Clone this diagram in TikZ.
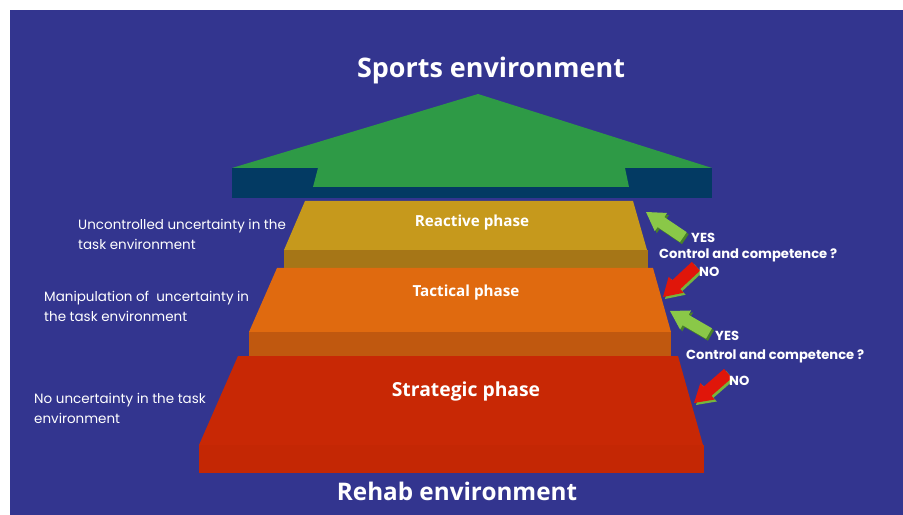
\documentclass[tikz,border=0pt]{standalone}
\usepackage{fontspec}
\setmainfont{Poppins}
\newfontfamily\headfont{Open Sans}
\usetikzlibrary{positioning}

\definecolor{slide}{RGB}{51,53,143}
\definecolor{arrowtop}{RGB}{46,154,70}
\definecolor{navy}{RGB}{3,58,99}
\definecolor{goldtop}{RGB}{198,153,28}
\definecolor{goldfront}{RGB}{166,118,23}
\definecolor{orangetop}{RGB}{224,106,15}
\definecolor{orangefront}{RGB}{192,88,15}
\definecolor{redtop}{RGB}{200,40,5}
\definecolor{redfront}{RGB}{196,39,4}
\definecolor{yesgreen}{RGB}{138,200,72}
\definecolor{yesshade}{RGB}{72,130,40}
\definecolor{nored}{RGB}{224,22,10}
\definecolor{noshade}{RGB}{118,182,60}

\begin{document}
\begin{tikzpicture}[x=0.03cm,y=-0.03cm,
  title/.style={text=white, font=\headfont\bfseries\fontsize{23}{27}\selectfont},
  phaselabel/.style={text=white, font=\headfont\bfseries\fontsize{13}{15}\selectfont},
  sidelabel/.style={text=white, align=left, anchor=west, inner sep=0pt,
    font=\fontsize{11.5}{17}\selectfont},
  answer/.style={text=white, anchor=base west, inner sep=0pt,
    font=\bfseries\fontsize{11.2}{13}\selectfont}]
% slide
\useasboundingbox (0,0) rectangle (903,515);
\fill[white] (0,0) rectangle (903,515);
\fill[slide] (10,10) rectangle (903,515);

% big arrow to the sports environment
\fill[navy] (232,168) rectangle (712,198);
\fill[arrowtop] (232,168) -- (478,94) -- (712,168) -- (625,168) -- (629,187)
  -- (313,187) -- (318,168) -- cycle;

% the three steps: top face, then front face
\fill[goldtop] (305,201) -- (633,201) -- (647,250) -- (284,250) -- cycle;
\fill[goldfront] (284,250) rectangle (648,268);
\fill[orangetop] (277,268) -- (653,268) -- (671,332) -- (249,332) -- cycle;
\fill[orangefront] (249,332) rectangle (671,356);
\fill[redtop] (238,356) -- (678,356) -- (703,445) -- (199,445) -- cycle;
\fill[redfront] (199,445) rectangle (704,473);

\node[title] (sports) at (491,71) {Sports environment};
\node[title, font=\headfont\bfseries\fontsize{20.7}{25}\selectfont] (rehab) at (457,491) {Rehab environment};

\node[phaselabel] (reactive) at (472,223) {Reactive phase};
\node[phaselabel] (tactical) at (466,293) {Tactical phase};
\node[phaselabel, font=\headfont\bfseries\fontsize{16.5}{19}\selectfont] (strategic) at (466,391) {Strategic phase};

\node[sidelabel] (uncontrolled) at (78,234) {Uncontrolled uncertainty in the\\task environment};
\node[sidelabel] (manipulation) at (44,306) {Manipulation of\ \ uncertainty in\\the task environment};
\node[sidelabel] (nouncert) at (34,408) {No uncertainty in the task\\environment};

% yes / no arrows
\foreach \tx/\ty/\ang/\main/\shade in {646/212/146/yesgreen/yesshade, 663/297/223/nored/noshade,
    670/311/150/yesgreen/yesshade, 694/403/221/nored/noshade} {
  \fill[\shade, shift={(\tx+2,\ty+2)}, rotate=\ang] (0,0) -- (-18,11) -- (-18,6) -- (-45,6)
    -- (-45,-6) -- (-18,-6) -- (-18,-11) -- cycle;
  \fill[\main, shift={(\tx,\ty)}, rotate=\ang] (0,0) -- (-18,11) -- (-18,6) -- (-45,6)
    -- (-45,-6) -- (-18,-6) -- (-18,-11) -- cycle;
}

\node[answer] (yes1) at (691,243) {YES};
\node[answer] (ask1) at (659,259) {Control and competence ?};
\node[answer] (no1) at (699,277) {NO};
\node[answer] (yes2) at (715,340) {YES};
\node[answer] (ask2) at (686,359) {Control and competence ?};
\node[answer] (no2) at (729,385) {NO};
\end{tikzpicture}
\end{document}
